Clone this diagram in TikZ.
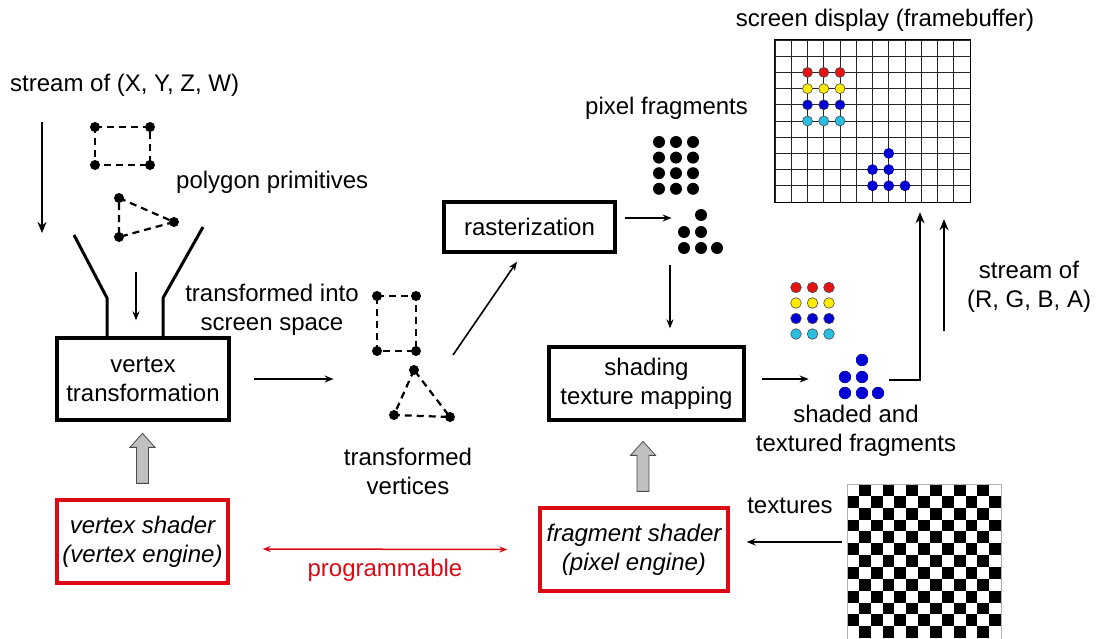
\documentclass[tikz,border=0pt]{standalone}
\usepackage{fontspec}
\setmainfont{Liberation Sans}
\usetikzlibrary{arrows.meta}
\definecolor{shaderred}{RGB}{220,10,20}
\definecolor{fragred}{RGB}{228,20,20}
\definecolor{fragyellow}{RGB}{255,235,0}
\definecolor{fragblue}{RGB}{0,0,215}
\definecolor{fragcyan}{RGB}{40,190,225}
\definecolor{fatgray}{RGB}{192,192,192}

\begin{document}
\begin{tikzpicture}[x=1pt, y=-1pt,
  every node/.style={font=\fontsize{24}{29}\selectfont, inner sep=0pt},
  stage/.style={draw, line width=3.3pt, align=center},
  shader/.style={draw=shaderred, line width=3.3pt, align=center, font=\fontsize{24}{29}\selectfont\itshape},
  txt/.style={align=center},
  arrow/.style={-{Stealth[length=9pt,width=7pt]}, line width=1.6pt},
  bigarrow/.style={-{Stealth[length=11pt,width=9pt]}, line width=2.8pt},
  poly/.style={line width=2.2pt, dash pattern=on 7pt off 5pt},
  fatarrow/.style={draw=gray!60!black, fill=fatgray, line width=0.8pt},
  gridline/.style={draw=gray!30!black, line width=0.9pt}
]
\fill[white] (0,0) rectangle (1097,639);
\useasboundingbox (0,0) rectangle (1097,639);

% pipeline stages
\node[stage, minimum width=172pt, minimum height=82pt] (vt) at (143,379) {vertex\\transformation};
\node[stage, minimum width=171pt, minimum height=50pt] (rast) at (529.5,227) {rasterization};
\node[stage, minimum width=195pt, minimum height=73pt] (shade) at (646.5,383.5) {shading\\texture mapping};
\node[shader, minimum width=171pt, minimum height=83pt] (vs) at (142.5,541.5) {vertex shader\\(vertex engine)};
\node[shader, minimum width=188pt, minimum height=83pt] (fs) at (634,549.5) {fragment shader\\(pixel engine)};
\node[minimum width=195pt, minimum height=162pt] (fb) at (872.5,121) {};

% labels
\node[anchor=west] (xyzw) at (10,85) {stream of (X, Y, Z, W)};
\node[anchor=west] (prims) at (176,182) {polygon primitives};
\node[txt] (screen) at (272,310) {transformed into\\screen space};
\node[txt] (tverts) at (408,471) {transformed\\vertices};
\node[anchor=west] (pixfrag) at (585,108) {pixel fragments};
\node (fbtitle) at (885,20) {screen display (framebuffer)};
\node[txt] (rgba) at (1029,287) {stream of\\(R, G, B, A)};
\node[txt] (shaded) at (856,431) {shaded and\\textured fragments};
\node (textures) at (790,506) {textures};
\node[text=shaderred] (prog) at (385,570) {programmable};

% incoming primitives
\coordinate (a1) at (95,127);  \coordinate (a2) at (150,127);
\coordinate (a3) at (95,165);  \coordinate (a4) at (150,165);
\coordinate (a5) at (119,198); \coordinate (a6) at (174,222);
\coordinate (a7) at (119,237);
\draw[poly] (a1) -- (a2) -- (a4) -- (a3) -- cycle;
\draw[poly] (a5) -- (a6) -- (a7) -- cycle;
\foreach \p in {a1,a2,a3,a4,a5,a6,a7} \fill (\p) circle (5pt);

% funnel
\draw[line width=3pt] (74,235) -- (107,298) -- (107,338);
\draw[line width=3pt] (203,227) -- (163,298) -- (163,338);

% transformed primitives
\coordinate (b1) at (377,296); \coordinate (b2) at (416,296);
\coordinate (b3) at (377,351); \coordinate (b4) at (416,351);
\coordinate (b5) at (414,370); \coordinate (b6) at (394,415);
\coordinate (b7) at (450,417);
\draw[poly] (b1) -- (b2) -- (b4) -- (b3) -- cycle;
\draw[poly] (b5) -- (b6) -- (b7) -- cycle;
\foreach \p in {b1,b2,b3,b4,b5,b6,b7} \fill (\p) circle (5pt);

% pixel fragments
\foreach \i in {0,1,2}
  \foreach \j in {0,...,3}
    \fill (659+17*\i, 142+15.6*\j) circle (6pt);
\foreach \x/\y in {701/215, 684/232, 701/232, 684/248, 701/248, 717/248}
  \fill (\x,\y) circle (6pt);

% shaded fragments
\foreach \c [count=\j from 0] in {fragred,fragyellow,fragblue,fragcyan}
  \foreach \i in {0,1,2}
    \filldraw[fill=\c, draw=black!70, line width=0.6pt] (796+16.5*\i, 287.5+15.5*\j) circle (5.3pt);
\foreach \x/\y in {862/360, 845/377, 862/377, 845/393, 862/393, 878/393}
  \filldraw[fill=fragblue, draw=fragblue!70!black, line width=0.6pt] (\x,\y) circle (5.8pt);

% framebuffer
\foreach \i in {0,...,12} \draw[gridline] (775+16.25*\i,40) -- (775+16.25*\i,202);
\foreach \j in {0,...,10} \draw[gridline] (775,40+16.2*\j) -- (970,40+16.2*\j);
\draw[line width=1.3pt] (fb.north west) rectangle (fb.south east);
\foreach \c [count=\j from 2] in {fragred,fragyellow,fragblue,fragcyan}
  \foreach \i in {2,3,4}
    \filldraw[fill=\c, draw=black!70, line width=0.6pt] (775+16.25*\i, 40+16.2*\j) circle (5pt);
\foreach \i/\j in {7/7, 6/8, 7/8, 6/9, 7/9, 8/9}
  \filldraw[fill=fragblue, draw=fragblue!70!black, line width=0.6pt] (775+16.25*\i, 40+16.2*\j) circle (5pt);

% texture
\foreach \i in {0,...,12}
  \foreach \j in {0,...,12} {
    \pgfmathtruncatemacro\odd{mod(\i+\j,2)}
    \ifnum\odd=1 \fill (847+11.85*\i, 484+11.85*\j) rectangle ++(11.85,11.85); \fi
  }
\draw[gray!60, line width=0.6pt] (847,484) rectangle (1001,639);

% connectors
\coordinate (in-top) at (42,122);
\coordinate (in-bot) at (42,233);
\coordinate (tv-out) at (453,355);
\coordinate (sf-out) at (889,380);
\draw[bigarrow] (in-top) -- (in-bot);
\draw[arrow] ([xshift=-7pt,yshift=64pt]vt.north) -- ([xshift=-7pt,yshift=16pt]vt.north);
\draw[arrow] ([xshift=23pt]vt.east) -- ([xshift=103pt]vt.east);
\draw[arrow] (tv-out) -- ([xshift=-12.5pt,yshift=-8pt]rast.south);
\draw[arrow] ([xshift=8pt,yshift=9pt]rast.east) -- ([xshift=55pt,yshift=9pt]rast.east);
\draw[arrow] ([xshift=23.5pt,yshift=80pt]shade.north) -- ([xshift=23.5pt,yshift=17pt]shade.north);
\draw[arrow] ([xshift=16pt,yshift=4.5pt]shade.east) -- ([xshift=63pt,yshift=4.5pt]shade.east);
\draw[bigarrow] (sf-out) -| ([xshift=47.5pt,yshift=-10pt]fb.south);
\draw[bigarrow] ([xshift=71.5pt,yshift=-129pt]fb.south) -- ([xshift=71.5pt,yshift=-17pt]fb.south);
\draw[arrow] ([xshift=112pt,yshift=7.5pt]fs.east) -- ([xshift=17pt,yshift=7.5pt]fs.east);
\draw[{Stealth[length=8pt,width=6pt]}-{Stealth[length=8pt,width=6pt]}, line width=1.5pt, shaderred]
  ([xshift=33pt,yshift=-7.5pt]vs.east) -- ([xshift=-31pt]fs.west);

% programmable inputs
\foreach \src/\dx in {vs/0, fs/9}
  \draw[fatarrow] ([xshift=\dx pt - 6pt,yshift=15pt]\src.north) -- ++(0,-36) -- ++(-6.5,0)
    -- ++(12.5,-14) -- ++(12.5,14) -- ++(-6.5,0) -- ++(0,36) -- cycle;
\end{tikzpicture}
\end{document}
